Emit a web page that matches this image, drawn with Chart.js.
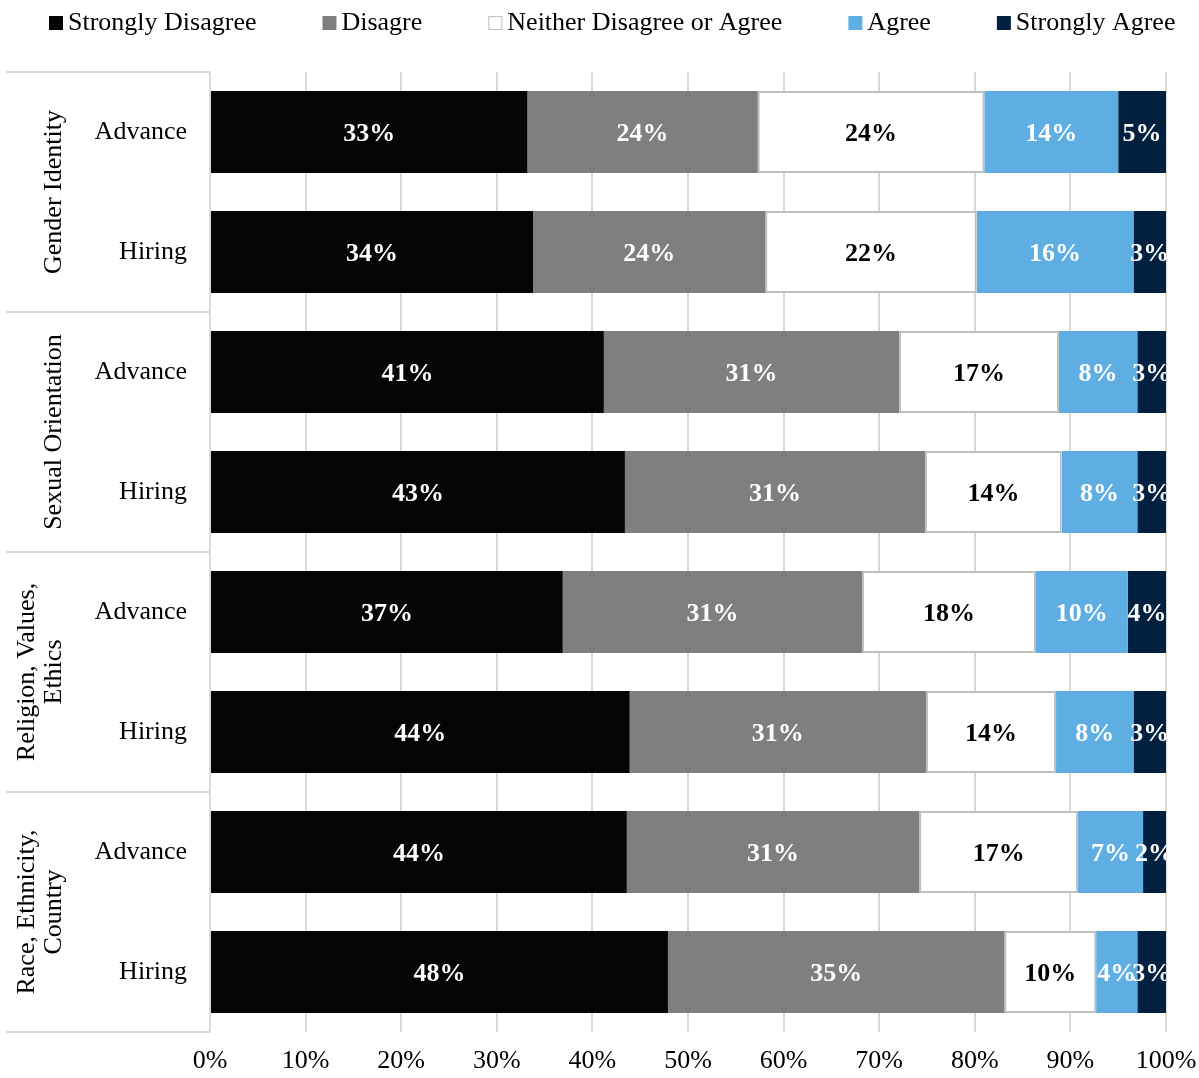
<!DOCTYPE html>
<html>
<head>
<meta charset="utf-8">
<script src="https://cdn.jsdelivr.net/npm/chart.js@4/dist/chart.umd.min.js"></script>
<style>
  body { margin: 0; background: #fff; }
  #wrap { width: 1199px; height: 1078px; }
</style>
</head>
<body>
<div id="wrap"><canvas id="surveyChart" width="1199" height="1078"></canvas></div>
<script>
const categories = ['Advance', 'Hiring', 'Advance', 'Hiring', 'Advance', 'Hiring', 'Advance', 'Hiring'];
const groups = [['Gender Identity'], ['Sexual Orientation'], ['Religion, Values,', 'Ethics'], ['Race, Ethnicity,', 'Country']];
const seriesNames = ['Strongly Disagree', 'Disagre', 'Neither Disagree or Agree', 'Agree', 'Strongly Agree'];

const stronglyDisagree = [33.2, 33.8, 41.2, 43.4, 36.9, 43.9, 43.6, 47.9];
const disagree = [24.1, 24.3, 30.9, 31.4, 31.3, 31.0, 30.6, 35.2];
const neither = [23.7, 22.1, 16.7, 14.3, 18.2, 13.6, 16.6, 9.6];
const agree = [14.0, 16.4, 8.2, 7.9, 9.6, 8.1, 6.8, 4.3];
const stronglyAgree = [5.0, 3.4, 3.0, 3.0, 4.0, 3.4, 2.4, 3.0];

const xTicks = [0, 10, 20, 30, 40, 50, 60, 70, 80, 90, 100];

const FONT = '"Liberation Serif", "Times New Roman", serif';
const fills = ['#050505', '#7f7f7f', '#ffffff', '#5eaee3', '#02203f'];
const labelColors = ['#fff', '#fff', '#000', '#fff', '#fff'];
const gridColor = '#d9d9d9';

const seriesData = [stronglyDisagree, disagree, neither, agree, stronglyAgree];

// percentage labels in the middle of every segment
const segmentLabels = {
  id: 'segmentLabels',
  afterDatasetsDraw(chart) {
    const { ctx, chartArea } = chart;
    ctx.save();
    ctx.beginPath();
    ctx.rect(chartArea.left, chartArea.top, chartArea.right - chartArea.left, chartArea.bottom - chartArea.top);
    ctx.clip();
    ctx.font = 'bold 26px ' + FONT;
    ctx.textAlign = 'center';
    ctx.textBaseline = 'middle';
    chart.data.datasets.forEach((ds, i) => {
      chart.getDatasetMeta(i).data.forEach((bar, j) => {
        ctx.fillStyle = labelColors[i];
        ctx.fillText(Math.round(ds.data[j]) + '%', (bar.x + bar.base) / 2, bar.y + 2);
      });
    });
    ctx.restore();
  }
};

// group names and separators on the left, legend on top
const sideAndLegend = {
  id: 'sideAndLegend',
  afterDraw(chart) {
    const { ctx } = chart;
    const y = chart.scales.y;
    ctx.save();
    ctx.strokeStyle = gridColor;
    ctx.lineWidth = 2;
    for (let g = 0; g <= groups.length; g++) {
      const py = Math.round(y.getPixelForValue(g * 2 - 0.5));
      ctx.beginPath();
      ctx.moveTo(6, py);
      ctx.lineTo(chart.chartArea.left, py);
      ctx.stroke();
    }

    ctx.fillStyle = '#000';
    ctx.font = '26px ' + FONT;
    ctx.textAlign = 'center';
    ctx.textBaseline = 'middle';
    groups.forEach((lines, g) => {
      const cy = (y.getPixelForValue(g * 2 - 0.5) + y.getPixelForValue(g * 2 + 1.5)) / 2;
      lines.forEach((line, k) => {
        const cx = 54 - (lines.length - 1 - k) * 27;
        ctx.save();
        ctx.translate(cx, cy);
        ctx.rotate(-Math.PI / 2);
        ctx.fillText(line, 0, 0);
        ctx.restore();
      });
    });

    // legend
    ctx.textAlign = 'left';
    let lx = 49;
    const ly = 23;
    seriesNames.forEach((name, i) => {
      ctx.fillStyle = fills[i];
      ctx.fillRect(lx, ly - 7, 14, 14);
      if (i === 2) {
        ctx.strokeStyle = '#bfbfbf';
        ctx.lineWidth = 1;
        ctx.strokeRect(lx + 0.5, ly - 6.5, 13, 13);
      }
      ctx.fillStyle = '#000';
      ctx.fillText(name, lx + 19, ly);
      lx += 19 + ctx.measureText(name).width + 66;
    });
    ctx.restore();
  }
};

new Chart(document.getElementById('surveyChart'), {
  type: 'bar',
  data: {
    labels: categories,
    datasets: seriesData.map((d, i) => ({
      label: seriesNames[i],
      data: d,
      backgroundColor: fills[i],
      borderColor: i === 2 ? '#bfbfbf' : fills[i],
      borderWidth: i === 2 ? 2 : 0,
      borderSkipped: false,
      categoryPercentage: 1,
      barPercentage: 0.683
    }))
  },
  options: {
    indexAxis: 'y',
    responsive: false,
    animation: false,
    layout: { padding: { top: 72, right: 33, left: 0, bottom: 0 } },
    plugins: {
      legend: { display: false },
      tooltip: { enabled: false }
    },
    scales: {
      x: {
        stacked: true,
        min: 0,
        max: 100,
        afterBuildTicks: (scale) => { scale.ticks = xTicks.map(v => ({ value: v })); },
        afterFit: (scale) => {
          scale.height = 46;
          scale.paddingLeft = 0;
          scale.paddingRight = 0;
        },
        grid: { color: gridColor, lineWidth: 2, drawTicks: false },
        border: { display: false },
        ticks: {
          padding: 14,
          color: '#000',
          font: { family: FONT, size: 26 },
          callback: (v) => v + '%'
        }
      },
      y: {
        stacked: true,
        afterFit: (scale) => { scale.width = 210; },
        grid: { display: false, drawTicks: false },
        border: { display: true, color: gridColor, width: 2 },
        ticks: {
          padding: 23,
          autoSkip: false,
          color: '#000',
          font: { family: FONT, size: 26 }
        }
      }
    }
  },
  plugins: [segmentLabels, sideAndLegend]
});
</script>
</body>
</html>
